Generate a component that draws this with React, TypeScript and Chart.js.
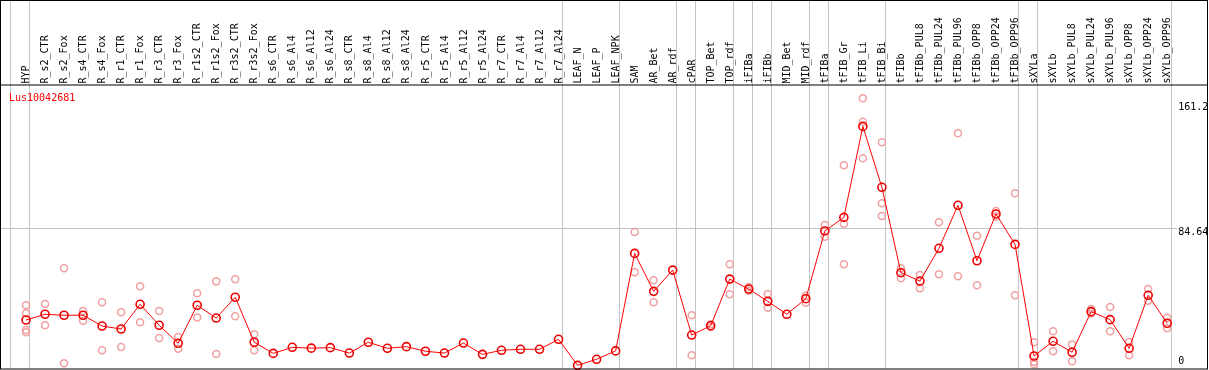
import React, { useEffect, useRef } from "react";
import { Chart, registerables } from "chart.js";

Chart.register(...registerables);

const geneName = "Lus10042681";

const categories = [
  "HYP", "R_s2_CTR", "R_s2_Fox", "R_s4_CTR", "R_s4_Fox", "R_r1_CTR", "R_r1_Fox", "R_r3_CTR", "R_r3_Fox",
  "R_r1s2_CTR", "R_r1s2_Fox", "R_r3s2_CTR", "R_r3s2_Fox", "R_s6_CTR", "R_s6_Al4", "R_s6_Al12", "R_s6_Al24",
  "R_s8_CTR", "R_s8_Al4", "R_s8_Al12", "R_s8_Al24", "R_r5_CTR", "R_r5_Al4", "R_r5_Al12", "R_r5_Al24",
  "R_r7_CTR", "R_r7_Al4", "R_r7_Al12", "R_r7_Al24", "LEAF_N", "LEAF_P", "LEAF_NPK", "SAM", "AR_Bet", "AR_rdf",
  "cPAR", "TOP_Bet", "TOP_rdf", "iFIBa", "iFIBb", "MID_Bet", "MID_rdf", "tFIBa", "tFIB_Gr", "tFIB_Li", "tFIB_Bi",
  "tFIBb", "tFIBb_PUL8", "tFIBb_PUL24", "tFIBb_PUL96", "tFIBb_OPP8", "tFIBb_OPP24", "tFIBb_OPP96",
  "sXYLa", "sXYLb", "sXYLb_PUL8", "sXYLb_PUL24", "sXYLb_PUL96", "sXYLb_OPP8", "sXYLb_OPP24", "sXYLb_OPP96",
];

const means = [
  28.6, 32.1, 31.5, 31.5, 24.9, 23.1, 38.2, 25.4, 14.4, 37.6,
  29.8, 42.5, 15.0, 8.2, 11.9, 11.4, 11.7, 8.4, 15.0, 11.3,
  12.3, 9.5, 8.4, 14.5, 7.6, 10.1, 10.7, 10.7, 16.8, 0.9,
  4.6, 9.7, 69.3, 46.1, 59.1, 19.4, 25.1, 53.6, 47.5, 40.0,
  32.1, 41.6, 83.0, 91.3, 146.9, 109.7, 57.5, 52.4, 72.4, 98.7,
  64.8, 93.4, 74.8, 6.6, 15.6, 8.9, 33.7, 28.8, 11.3, 43.7,
  26.6,
];

const N = null;
const rep1 = [
  37.6, 38.4, 60.2, 34.1, 39.4, 33.3, 49.2, 34.1, 18.2, 44.9,
  52.2, 53.5, 19.9, N, N, N, N, N, N, N,
  N, N, N, N, N, N, N, N, N, N,
  N, N, 82.4, 52.9, N, 31.5, 26.0, 62.6, 48.8, 44.5,
  N, 43.4, 86.6, 123.1, 164.1, 137.2, 60.2, 56.1, 88.3, 142.7,
  80.1, 95.2, 106.0, 15.0, 21.7, 13.7, 35.3, 36.5, 15.2, 47.5,
  30.0,
];
const rep2 = [
  32.7, 25.4, 2.1, 28.2, 10.1, 12.1, 27.2, 17.6, 11.1, 30.2,
  7.8, 30.9, 10.1, N, N, N, N, N, N, N,
  N, N, N, N, N, N, N, N, N, N,
  N, N, 57.7, 39.4, N, 7.0, 24.2, 44.3, 46.5, 36.1,
  N, 39.2, 79.5, 87.4, 149.8, 99.9, 54.1, 48.0, 56.5, 55.3,
  49.8, 91.8, 43.7, 3.1, 9.5, 3.4, 32.5, 21.7, 7.0, 40.4,
  23.5,
];
const rep3 = [
  22.5, N, N, N, N, N, N, N, N, N,
  N, N, N, N, N, N, N, N, N, N,
  N, N, N, N, N, N, N, N, N, N,
  N, N, N, N, N, N, N, N, N, N,
  N, N, N, 62.6, 127.4, 92.1, N, N, N, N,
  N, N, N, 1.5, N, N, N, N, N, N,
  N,
];
const rep4 = [
  21.1, N, N, N, N, N, N, N, N, N,
  N, N, N, N, N, N, N, N, N, N,
  N, N, N, N, N, N, N, N, N, N,
  N, N, N, N, N, N, N, N, N, N,
  N, N, N, N, N, N, N, N, N, N,
  N, N, N, N, N, N, N, N, N, N,
  N,
];

const yTicks = [0, 84.64, 161.2];
// indices of the last category of each group (separator drawn right after)
const groupEnds = [-1, 0, 28, 31, 34, 35, 37, 38, 39, 41, 42, 45, 52, 53, 60];

const FONT = '10px "DejaVu Sans Mono", monospace';

const decorPlugin = {
  id: "decor",
  beforeDatasetsDraw(chart: any) {
    const { ctx, chartArea, scales } = chart;
    const xs = scales.x;
    const ys = scales.y;
    ctx.save();
    ctx.strokeStyle = "#c4c4c4";
    ctx.lineWidth = 1;
    const gy = Math.round(ys.getPixelForValue(yTicks[1])) + 0.5;
    ctx.beginPath();
    ctx.moveTo(1, gy);
    ctx.lineTo(chartArea.right, gy);
    ctx.stroke();
    for (const g of groupEnds) {
      const px = Math.round(xs.getPixelForValue(g + 0.18)) + 0.5;
      ctx.beginPath();
      ctx.moveTo(px, 0);
      ctx.lineTo(px, chartArea.bottom);
      ctx.stroke();
    }
    ctx.restore();
  },
  afterDraw(chart: any) {
    const { ctx, chartArea, scales, width } = chart;
    const xs = scales.x;
    const ys = scales.y;
    ctx.save();
    ctx.font = FONT;
    ctx.fillStyle = "#000";
    categories.forEach((lab, i) => {
      const px = xs.getPixelForValue(i);
      ctx.save();
      ctx.translate(px + 0.5, chartArea.top - 1.5);
      ctx.rotate(-Math.PI / 2);
      ctx.textAlign = "left";
      ctx.textBaseline = "middle";
      ctx.fillText(lab, 0, 0);
      ctx.restore();
    });
    ctx.textAlign = "left";
    ctx.textBaseline = "middle";
    for (const v of yTicks) {
      let py = ys.getPixelForValue(v) + 4;
      if (py > chartArea.bottom - 7) py = chartArea.bottom - 7;
      ctx.fillText(String(v), chartArea.right + 1.5, py);
    }
    ctx.fillStyle = "#ff0000";
    ctx.fillText(geneName, 9, chartArea.top + 13);
    ctx.strokeStyle = "#000";
    ctx.lineWidth = 1;
    ctx.strokeRect(0.5, 0.5, width - 2, chartArea.bottom);
    ctx.fillStyle = "#000";
    ctx.fillRect(0, chartArea.top - 0.5, width - 1, 1);
    ctx.restore();
  },
};

export default function App() {
  const ref = useRef<HTMLCanvasElement | null>(null);
  useEffect(() => {
    document.body.style.margin = "0";
    const canvas = ref.current;
    if (!canvas) return;
    const repStyle = (data: (number | null)[]) => ({
      data,
      showLine: false,
      pointRadius: 3.5,
      pointBorderWidth: 1.5,
      pointBorderColor: "#f0a0a0",
      pointBackgroundColor: "rgba(0,0,0,0)",
      borderColor: "#f0a0a0",
      clip: false,
    });
    const chart = new Chart(canvas, {
      type: "line",
      data: {
        labels: categories,
        datasets: [
          {
            data: means,
            borderColor: "#ff0000",
            borderWidth: 1,
            pointRadius: 4,
            pointBorderWidth: 1.6,
            pointBorderColor: "#ee0000",
            pointBackgroundColor: "rgba(0,0,0,0)",
            tension: 0,
            clip: false,
          } as any,
          repStyle(rep1) as any,
          repStyle(rep2) as any,
          repStyle(rep3) as any,
          repStyle(rep4) as any,
        ],
      },
      plugins: [decorPlugin],
      options: {
        responsive: false,
        animation: false,
        devicePixelRatio: 1,
        events: [],
        layout: { autoPadding: false, padding: { left: 16.5, right: 32.3, top: 85, bottom: 1.5 } },
        plugins: { legend: { display: false }, tooltip: { enabled: false } },
        scales: {
          x: { type: "category", display: false, offset: true },
          y: {
            display: false,
            min: -1.04,
            max: 172.2,
            afterBuildTicks: (s: any) => {
              s.ticks = yTicks.map((v) => ({ value: v }));
            },
          },
        },
      },
    });
    return () => chart.destroy();
  }, []);
  return (
    <div style={{ width: 1209, height: 370 }}>
      <canvas ref={ref} width={1209} height={370} style={{ display: "block" }} />
    </div>
  );
}
